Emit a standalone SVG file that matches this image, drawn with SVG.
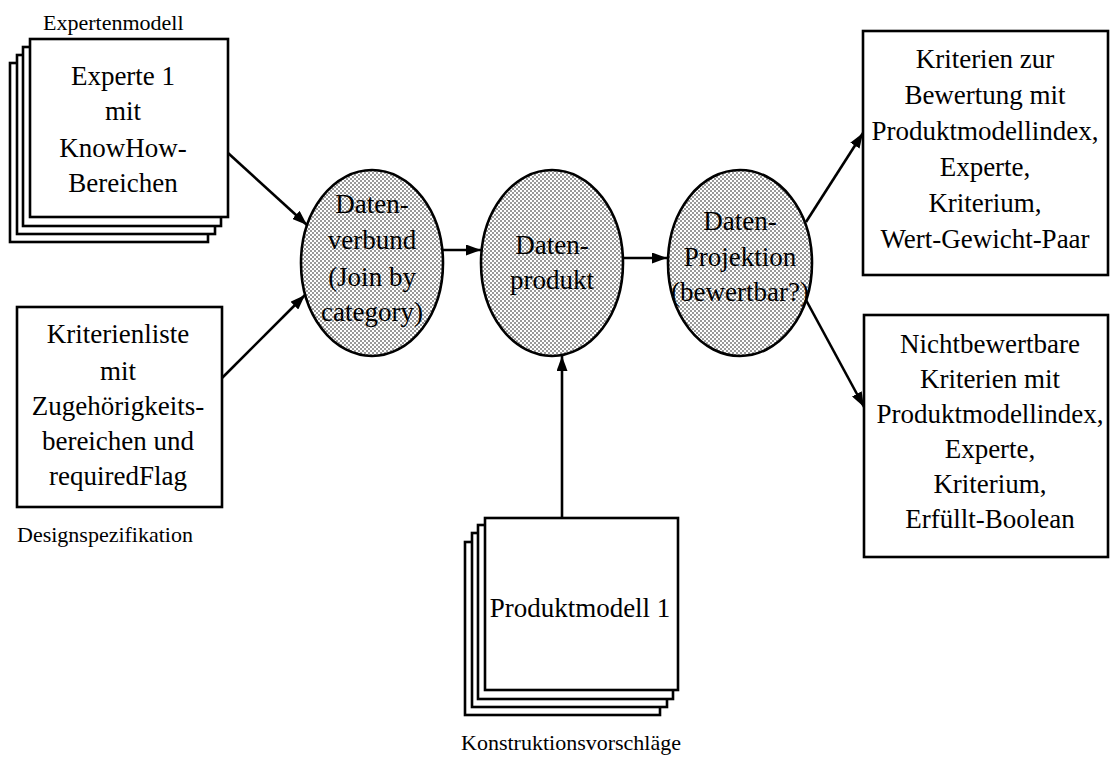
<svg xmlns="http://www.w3.org/2000/svg" width="1117" height="761" viewBox="0 0 1117 761">
<style>
.box{fill:#fff;stroke:#000;stroke-width:2.6}
.ell{fill:url(#dots);stroke:#000;stroke-width:2.6}
.t{font-family:"Liberation Serif","Times New Roman",serif;font-size:27px;fill:#000;text-anchor:middle}
.lbl{font-family:"Liberation Serif","Times New Roman",serif;font-size:22px;fill:#000}
.con{fill:none;stroke:#000;stroke-width:2.6}
</style>
<defs>
<pattern id="dots" width="4" height="4" patternUnits="userSpaceOnUse">
<rect width="4" height="4" fill="#fff"/>
<circle cx="1" cy="1" r="0.75" fill="#000"/>
<circle cx="3" cy="3" r="0.75" fill="#000"/>
</pattern>
<marker id="ah" markerUnits="userSpaceOnUse" markerWidth="15" markerHeight="11" refX="15" refY="5.5" orient="auto">
<path d="M0,0 L15,5.5 L0,11 z" fill="#000"/>
</marker>
</defs>
<rect width="1117" height="761" fill="#fff"/>

<g id="expertenmodell">
<text class="lbl" x="43" y="30">Expertenmodell</text>
<rect class="box" x="10" y="63" width="198" height="179"/>
<rect class="box" x="17" y="55" width="198" height="179"/>
<rect class="box" x="23" y="47" width="198" height="179"/>
<rect class="box" x="30" y="39" width="198" height="178"/>
<text class="t" x="123" y="85">Experte 1</text>
<text class="t" x="123" y="120">mit</text>
<text class="t" x="123" y="157">KnowHow-</text>
<text class="t" x="123" y="192">Bereichen</text>
</g>

<g id="designspezifikation">
<rect class="box" x="17" y="307" width="205" height="200"/>
<text class="t" x="118" y="343">Kriterienliste</text>
<text class="t" x="118" y="380">mit</text>
<text class="t" x="118" y="415">Zugehörigkeits-</text>
<text class="t" x="118" y="450">bereichen und</text>
<text class="t" x="118" y="485">requiredFlag</text>
<text class="lbl" x="17" y="542">Designspezifikation</text>
</g>

<g id="datenverbund">
<ellipse class="ell" cx="372" cy="263" rx="71" ry="93"/>
<text class="t" x="372" y="213">Daten-</text>
<text class="t" x="372" y="249">verbund</text>
<text class="t" x="372" y="286">(Join by</text>
<text class="t" x="372" y="321">category)</text>
</g>

<g id="datenprodukt">
<ellipse class="ell" cx="552" cy="263" rx="71" ry="93"/>
<text class="t" x="552" y="254">Daten-</text>
<text class="t" x="552" y="289">produkt</text>
</g>

<g id="datenprojektion">
<ellipse class="ell" cx="740" cy="263" rx="72" ry="93"/>
<text class="t" x="740" y="230">Daten-</text>
<text class="t" x="740" y="266">Projektion</text>
<text class="t" x="740" y="301">(bewertbar?)</text>
</g>

<g id="bewertbar">
<rect class="box" x="863" y="31" width="245" height="244"/>
<text class="t" x="985" y="68">Kriterien zur</text>
<text class="t" x="985" y="104">Bewertung mit</text>
<text class="t" x="985" y="140">Produktmodellindex,</text>
<text class="t" x="985" y="176">Experte,</text>
<text class="t" x="985" y="212">Kriterium,</text>
<text class="t" x="985" y="248">Wert-Gewicht-Paar</text>
</g>

<g id="nichtbewertbar">
<rect class="box" x="864" y="315" width="244" height="242"/>
<text class="t" x="990" y="353">Nichtbewertbare</text>
<text class="t" x="990" y="388">Kriterien mit</text>
<text class="t" x="990" y="423">Produktmodellindex,</text>
<text class="t" x="990" y="458">Experte,</text>
<text class="t" x="990" y="493">Kriterium,</text>
<text class="t" x="990" y="528">Erfüllt-Boolean</text>
</g>

<g id="produktmodell">
<rect class="box" x="465" y="542" width="195" height="173"/>
<rect class="box" x="472" y="533" width="195" height="174"/>
<rect class="box" x="478" y="525" width="195" height="174"/>
<rect class="box" x="485" y="518" width="193" height="172"/>
<text class="t" x="580" y="617">Produktmodell 1</text>
<text class="lbl" x="571" y="750" text-anchor="middle">Konstruktionsvorschläge</text>
</g>

<g id="connectors">
<line class="con" x1="228" y1="153" x2="307" y2="225" marker-end="url(#ah)"/>
<line class="con" x1="222" y1="378" x2="305" y2="295" marker-end="url(#ah)"/>
<line class="con" x1="443" y1="250" x2="481" y2="250" marker-end="url(#ah)"/>
<line class="con" x1="623" y1="258" x2="667" y2="258" marker-end="url(#ah)"/>
<line class="con" x1="806" y1="222" x2="863" y2="133" marker-end="url(#ah)"/>
<line class="con" x1="806" y1="300" x2="864" y2="407" marker-end="url(#ah)"/>
<line class="con" x1="562" y1="518" x2="562" y2="356" marker-end="url(#ah)"/>
</g>
</svg>
